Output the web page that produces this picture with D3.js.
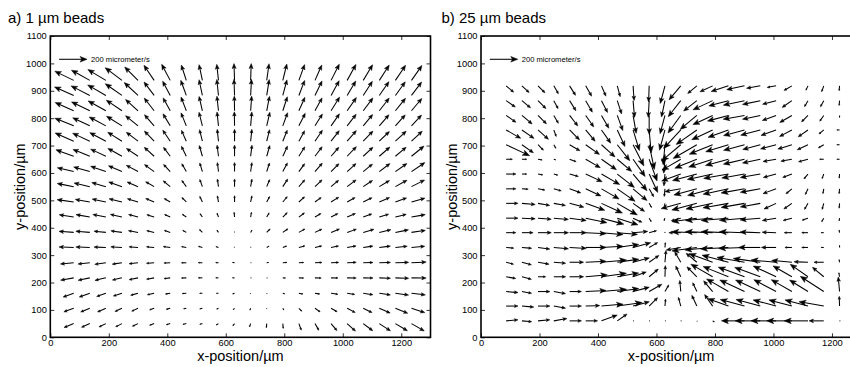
<!DOCTYPE html>
<html>
<head>
<meta charset="utf-8">
<script src="https://cdn.jsdelivr.net/npm/d3@7"></script>
<style>
  body { margin: 0; background: #fff; }
  svg { display: block; }
  text { font-family: "Liberation Sans", Arial, Helvetica, sans-serif; fill: #000; }
</style>
</head>
<body>
<div id="chart"></div>
<script>
// grid of measurement points (µm), rows listed top -> bottom
const xsA = [80, 135, 190, 245, 300, 355, 410, 465, 520, 575, 630, 685, 740, 795, 850, 905, 960, 1015, 1070, 1125, 1180, 1235];
const ysA = [938, 883, 827, 772, 716, 661, 605, 550, 494, 439, 383, 328, 272, 217, 161, 106, 50];
const xsB = [86, 140, 195, 249, 303, 358, 412, 466, 520, 575, 629, 683, 738, 792, 846, 901, 955, 1009, 1063, 1118, 1172, 1226];
const ysB = [918, 864, 810, 757, 703, 650, 596, 542, 489, 435, 382, 328, 274, 221, 167, 114, 60];

// panel a: flow direction (deg, counter-clockwise from +x) and speed (µm/s)
const angA = [
  [154,151,149,143,135,124,118,108,102,96,92,88,82,76,70,66,63,61,59,57,56,55],
  [156,153,150,145,137,127,118,110,102,96,92,87,81,75,69,64,61,59,57,55,54,53],
  [156,154,151,146,138,128,119,111,103,96,91,86,79,72,66,61,58,55,53,52,51,50],
  [158,155,152,148,141,131,121,112,104,96,91,85,77,70,63,58,55,52,50,49,48,47],
  [156,155,152,148,143,134,124,114,104,96,90,84,76,68,61,56,52,49,46,44,43,43],
  [160,158,155,151,146,138,127,116,106,97,90,83,74,65,58,53,49,46,43,41,40,39],
  [167,164,161,157,152,144,133,120,107,97,90,82,72,62,54,49,45,42,39,37,35,34],
  [169,167,164,161,157,150,140,126,110,98,90,80,67,57,49,44,40,37,34,31,29,27],
  [172,170,168,166,163,158,150,135,115,100,90,78,62,50,42,36,32,29,26,23,20,16],
  [171,170,169,167,165,162,156,145,125,110,95,80,60,45,37,31,27,23,20,17,14,10],
  [176,175,174,172,170,167,162,150,135,125,100,60,45,35,30,25,22,19,16,13,11,8],
  [178,178,178,177,176,175,173,170,165,160,130,60,30,20,15,13,11,10,8,7,6,5],
  [185,186,188,188,186,184,182,180,178,175,170,0,10,5,4,3,3,3,2,2,2,3],
  [190,192,193,193,192,190,187,183,180,180,180,0,-5,-3,-2,-2,-1,-1,-1,-2,-2,-1],
  [200,200,200,198,196,193,190,185,183,185,200,240,-60,-20,-12,-10,-9,-9,-9,-9,-8,-7],
  [200,202,204,205,205,200,195,192,195,205,225,250,270,-60,-45,-35,-30,-28,-26,-24,-22,-18],
  [202,204,206,207,205,200,195,192,195,210,230,250,265,-85,-70,-60,-50,-42,-37,-33,-31,-30]
];
const spdA = [
  [150,150,150,150,135,130,130,115,115,115,120,120,120,120,120,120,130,130,130,130,130,130],
  [150,150,150,145,135,120,115,115,115,115,115,115,115,115,115,115,120,120,120,120,120,120],
  [145,145,145,135,120,115,105,105,105,105,105,105,105,105,105,105,115,115,115,115,115,115],
  [145,135,135,130,115,105,100,100,100,100,100,100,100,100,100,100,105,105,105,105,105,105],
  [145,135,130,120,105,100,95,85,85,85,85,85,85,85,85,95,95,100,100,100,105,105],
  [135,130,120,115,100,95,80,80,80,80,80,80,80,80,80,85,85,95,95,100,100,115],
  [120,120,115,105,95,85,70,65,65,65,65,65,65,70,70,80,80,85,85,95,100,115],
  [120,115,105,100,85,70,65,55,55,55,55,55,55,65,65,70,70,80,80,85,95,105],
  [120,105,100,95,80,65,50,45,45,45,45,45,45,50,55,55,65,65,70,80,85,100],
  [105,100,95,85,70,55,45,35,30,30,35,35,35,45,50,50,55,65,65,70,80,100],
  [105,100,85,80,70,55,45,30,30,20,5,20,35,45,50,55,65,70,80,85,95,100],
  [105,100,85,80,65,55,50,35,30,20,5,5,20,30,45,50,55,65,70,80,85,95],
  [95,85,80,70,65,55,45,35,30,20,15,5,15,30,35,50,55,65,70,80,95,105],
  [95,85,80,70,65,55,45,35,30,20,15,5,5,20,35,45,50,65,70,80,95,105],
  [80,80,70,65,55,50,35,30,20,15,15,5,5,15,30,35,50,55,70,80,95,100],
  [75,70,65,55,50,35,30,20,20,15,15,15,5,15,30,45,50,65,70,85,95,100],
  [75,65,55,50,45,35,30,25,20,20,20,25,30,35,50,55,65,80,85,95,100,105]
];

// panel b
const angB = [
  [-40,-43,-45,-60,-58,-60,-67,-75,-86,-92,-105,-130,-140,-155,-162,-168,-170,-170,-150,-115,-110,-95],
  [-35,-40,-45,-62,-58,-60,-63,-72,-85,-93,-102,-128,-142,-155,-165,-168,-168,-165,-145,-120,-118,-95],
  [-35,-40,-45,-60,-52,-55,-60,-70,-80,-90,-105,-126,-140,-155,-165,-170,-168,-160,-150,-135,-125,-90],
  [-30,-35,-42,-70,-45,-50,-55,-65,-73,-85,-105,-133,-145,-155,-160,-165,-165,-160,-152,-145,-140,180],
  [-25,-35,-45,-60,-30,-35,-42,-52,-63,-78,-95,-140,-150,-158,-163,-165,-165,-165,-163,-155,-150,180],
  [0,0,-10,-20,-20,-30,-35,-40,-55,-70,-95,-150,-158,-162,-165,-167,-168,-170,-170,-165,180,180],
  [0,0,-10,-15,-15,-25,-30,-38,-50,-65,-95,-160,-165,-168,-170,-170,-170,-165,-160,-130,-110,-95],
  [0,-3,-10,-15,-20,-25,-30,-35,-40,-60,-95,-170,-165,-165,-168,-170,-170,-160,-140,-115,-100,-95],
  [0,-5,-10,-10,-15,-20,-25,-30,-35,-60,-100,-165,-165,-168,-170,-170,-170,-155,-145,-120,-105,-95],
  [0,-3,-5,-5,-8,-12,-15,-18,-25,-60,-110,-165,-172,-175,-175,-175,-175,-170,-165,-160,-120,-100],
  [0,0,0,0,0,-3,-5,-5,5,15,90,180,178,178,178,178,178,178,180,180,180,100],
  [-5,-5,-8,-5,-3,0,3,8,15,30,85,190,188,185,183,182,180,180,180,180,180,90],
  [-15,-15,-10,-5,0,3,5,8,15,35,85,120,140,160,165,170,172,175,175,178,180,100],
  [-10,-15,0,0,0,5,8,10,20,40,88,115,135,150,158,160,160,155,150,145,140,100],
  [-5,-10,0,-10,0,3,5,8,15,30,60,95,115,130,150,155,155,152,150,148,147,95],
  [0,-5,0,-10,0,2,5,8,15,45,85,105,115,125,160,165,165,165,165,165,170,92],
  [5,-5,5,10,0,0,20,35,0,0,0,0,-60,-30,180,180,180,180,180,180,180,0]
];
const spdB = [
  [70,70,70,65,80,85,80,80,105,115,130,130,85,100,130,130,100,65,65,35,45,35],
  [80,80,80,65,85,95,95,100,120,120,120,145,120,155,145,155,130,100,85,50,50,35],
  [85,95,85,65,95,100,105,115,130,135,135,155,155,155,155,155,130,105,100,65,50,15],
  [120,105,100,50,100,105,115,130,155,165,150,180,180,165,155,155,145,115,100,85,45,20],
  [185,100,55,30,85,120,130,145,170,180,145,180,195,180,170,155,130,115,105,85,45,20],
  [45,35,30,15,50,120,130,135,150,165,100,155,170,180,170,155,130,95,80,70,30,20],
  [70,35,35,30,65,130,150,155,155,145,85,145,180,185,180,165,145,95,70,45,35,30],
  [70,45,50,55,85,120,145,155,130,65,55,115,170,185,185,170,145,100,55,45,35,35],
  [85,95,85,85,105,145,165,165,100,35,20,145,185,195,185,170,145,95,70,50,45,35],
  [85,95,95,105,120,155,165,155,70,30,20,70,180,195,195,180,145,100,65,45,30,20],
  [70,80,95,105,120,145,155,145,105,55,5,85,180,195,195,180,145,100,55,45,20,20],
  [55,70,85,105,120,145,155,155,130,70,35,105,180,200,200,185,155,105,50,45,20,15],
  [55,70,80,85,100,145,180,155,120,85,85,85,100,180,195,200,195,180,145,100,70,20],
  [70,70,55,85,100,155,180,155,100,85,80,85,100,180,195,200,195,180,155,155,105,30],
  [85,70,85,85,85,145,180,155,120,105,55,80,70,100,180,195,195,180,170,155,200,105],
  [85,85,85,85,85,100,155,180,120,85,50,65,85,100,155,180,180,170,170,170,180,70],
  [85,70,85,95,85,85,120,85,5,5,5,5,5,15,20,165,180,180,180,170,105,5]
];

const xTicks = [0, 200, 400, 600, 800, 1000, 1200];
const yTicks = [0, 100, 200, 300, 400, 500, 600, 700, 800, 900, 1000, 1100];
const refSpeed = 200;
const refLabel = '200 micrometer/s';

const W = 850, H = 367;
const svg = d3.select('#chart').append('svg').attr('width', W).attr('height', H);

const y = d3.scaleLinear().domain([0, 1100]).range([337.3, 36]);
// arrow length in px per µm/s (reference arrow 200 µm/s ~ 28 px)
const len = d3.scaleLinear().domain([0, 200]).range([0, 28]);

// shaft + filled head, tail at (x0, y0)
function arrowParts(x0, y0, speed, angle) {
  const L = len(speed);
  const t = angle * Math.PI / 180;
  const ux = Math.cos(t), uy = -Math.sin(t);
  const x1 = x0 + L * ux, y1 = y0 + L * uy;
  const h = Math.min(0.3 * L, 7), w = 0.4 * h;
  const bx = x1 - h * ux, by = y1 - h * uy;
  const px = -uy, py = ux;
  return {
    shaft: `M${x0},${y0}L${bx + 0.3 * h * ux},${by + 0.3 * h * uy}`,
    head: `M${bx + w * px},${by + w * py}L${x1},${y1}L${bx - w * px},${by - w * py}L${bx + 0.25 * h * ux},${by + 0.25 * h * uy}Z`
  };
}

function drawPanel(p) {
  const x = d3.scaleLinear().domain([0, 1300]).range(p.range);
  const g = svg.append('g');

  // arrows
  const cells = [];
  p.ys.forEach((yv, r) => p.xs.forEach((xv, c) => {
    cells.push(Object.assign({}, arrowParts(x(xv), y(yv), p.spd[r][c], p.ang[r][c])));
  }));
  const ag = g.append('g');
  ag.selectAll('path.shaft')
    .data(cells)
    .enter()
    .append('path')
    .attr('class', 'shaft')
    .attr('d', d => d.shaft)
    .attr('fill', 'none')
    .attr('stroke', '#000')
    .attr('stroke-width', 1.05);
  ag.selectAll('path.head')
    .data(cells)
    .enter()
    .append('path')
    .attr('class', 'head')
    .attr('d', d => d.head)
    .attr('fill', '#000')
    .attr('stroke', '#000')
    .attr('stroke-width', 0.5)
    .attr('stroke-linejoin', 'round');

  // reference arrow
  const ref = arrowParts(x(30), y(1015), refSpeed, 0);
  g.append('path').attr('d', ref.shaft).attr('fill', 'none').attr('stroke', '#000').attr('stroke-width', 1.05);
  g.append('path').attr('d', ref.head).attr('fill', '#000').attr('stroke', '#000').attr('stroke-width', 0.5);
  g.append('text')
    .attr('x', x(30) + len(refSpeed) + 4)
    .attr('y', y(1015))
    .attr('dy', '0.35em')
    .attr('font-size', 7.6)
    .text(refLabel);

  // axes with inward ticks
  const fmt = d3.format('d');
  const bottom = g.append('g').attr('transform', `translate(0,${y(0)})`)
    .call(d3.axisBottom(x).tickValues(xTicks).tickSize(-4).tickSizeOuter(0).tickPadding(2.5).tickFormat(fmt));
  const top = g.append('g').attr('transform', `translate(0,${y(1100)})`)
    .call(d3.axisTop(x).tickValues(xTicks).tickSize(-4).tickSizeOuter(0).tickFormat(''));
  const left = g.append('g').attr('transform', `translate(${x(0)},0)`)
    .call(d3.axisLeft(y).tickValues(yTicks).tickSize(-4).tickSizeOuter(0).tickPadding(3.5).tickFormat(fmt));
  const right = g.append('g').attr('transform', `translate(${x(1300)},0)`)
    .call(d3.axisRight(y).tickValues(yTicks).tickSize(-4).tickSizeOuter(0).tickFormat(''));
  [bottom, top, left, right].forEach(a => {
    a.select('.domain').remove();
    a.selectAll('line').attr('stroke', '#000').attr('stroke-width', 0.8);
    a.selectAll('text').attr('font-size', 9.3).attr('font-family', '"Liberation Sans", Arial, sans-serif').attr('fill', '#000');
  });

  // box
  g.append('rect')
    .attr('x', x(0)).attr('y', y(1100))
    .attr('width', x(1300) - x(0)).attr('height', y(0) - y(1100))
    .attr('fill', 'none').attr('stroke', '#000').attr('stroke-width', 1.6);

  // labels
  g.append('text')
    .attr('x', (x(0) + x(1300)) / 2).attr('y', 361)
    .attr('text-anchor', 'middle').attr('font-size', 14.5)
    .text('x-position/µm');
  g.append('text')
    .attr('transform', `translate(${p.yTitleX},${(y(0) + y(1100)) / 2}) rotate(-90)`)
    .attr('text-anchor', 'middle').attr('font-size', 14.5)
    .text('y-position/µm');
  g.append('text')
    .attr('x', p.titleX).attr('y', 23)
    .attr('font-size', 15)
    .text(p.title);
}

drawPanel({ title: 'a) 1 µm beads', titleX: 8, yTitleX: 25, range: [50.3, 430.5], xs: xsA, ys: ysA, ang: angA, spd: spdA });
drawPanel({ title: 'b) 25 µm beads', titleX: 441.5, yTitleX: 457, range: [481, 861.2], xs: xsB, ys: ysB, ang: angB, spd: spdB });
</script>
</body>
</html>
